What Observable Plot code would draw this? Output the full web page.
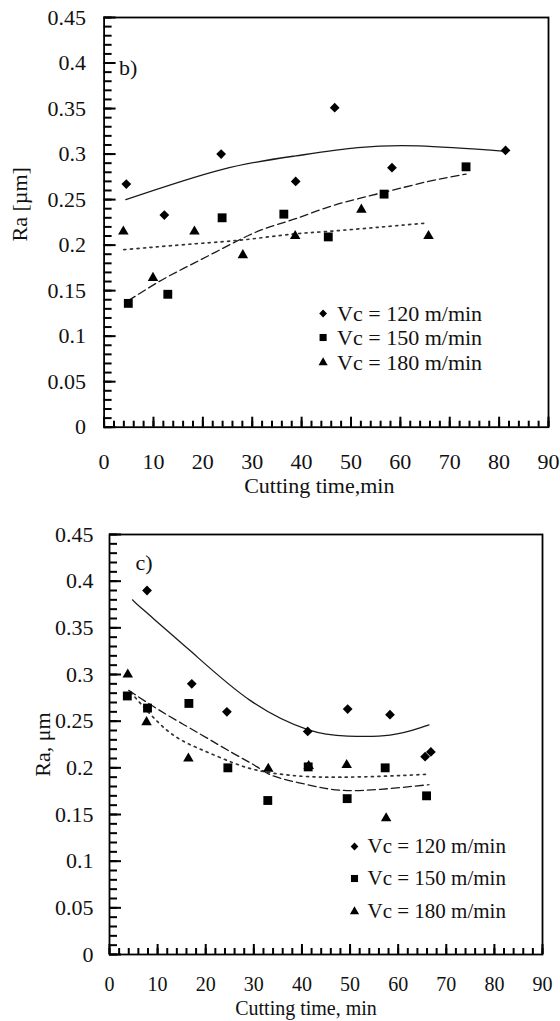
<!DOCTYPE html>
<html>
<head>
<meta charset="utf-8">
<script src="https://cdn.jsdelivr.net/npm/d3@7"></script>
<script src="https://cdn.jsdelivr.net/npm/@observablehq/plot@0.6"></script>
<style>
  html, body { margin: 0; padding: 0; background: #fff; }
  #wrap { position: relative; width: 560px; height: 1021px; overflow: hidden; }
  #pb, #pc { position: absolute; left: 0; }
  #pb { top: 0; }
  #pc { top: 500px; }
</style>
</head>
<body>
<div id="wrap"><div id="pb"></div><div id="pc"></div></div>
<script>
// ---------- data ----------
const xTicks = [0, 10, 20, 30, 40, 50, 60, 70, 80, 90];
const yTicks = [0, 0.05, 0.1, 0.15, 0.2, 0.25, 0.3, 0.35, 0.4, 0.45];
const yTickLabels = ["0", "0.05", "0.1", "0.15", "0.2", "0.25", "0.3", "0.35", "0.4", "0.45"];
const seriesNames = ["Vc = 120 m/min", "Vc = 150 m/min", "Vc = 180 m/min"];

// panel b) measured points
const b120_t  = [4.5, 12.2, 23.7, 38.8, 46.7, 58.3, 81.3];
const b120_ra = [0.267, 0.233, 0.300, 0.270, 0.351, 0.285, 0.304];
const b150_t  = [4.9, 12.9, 23.9, 36.4, 45.4, 56.7, 73.3];
const b150_ra = [0.136, 0.146, 0.230, 0.234, 0.209, 0.256, 0.286];
const b180_t  = [3.9, 9.9, 18.3, 28.1, 38.7, 52.1, 65.7];
const b180_ra = [0.215, 0.164, 0.215, 0.189, 0.210, 0.239, 0.210];
// panel b) trend curves (read from the picture)
const fb120_t  = [4.4, 23.8, 38.8, 51.4, 63.7, 81.3];
const fb120_ra = [0.250, 0.283, 0.298, 0.307, 0.309, 0.303];
const fb150_t  = [4.9, 11.8, 18.5, 25.3, 32.0, 38.8, 46.7, 56.7, 65.7, 73.3];
const fb150_ra = [0.139, 0.162, 0.181, 0.200, 0.217, 0.229, 0.244, 0.258, 0.270, 0.278];
const fb180_t  = [4.0, 18.5, 28.6, 38.0, 46.7, 64.8];
const fb180_ra = [0.195, 0.2015, 0.206, 0.212, 0.2156, 0.224];

// panel c) measured points
const c120_t  = [7.8, 17.1, 24.4, 41.2, 49.5, 58.3, 65.6, 66.8];
const c120_ra = [0.390, 0.290, 0.260, 0.239, 0.263, 0.257, 0.212, 0.217];
const c150_t  = [3.7, 7.9, 16.5, 24.6, 32.9, 41.3, 49.4, 57.3, 65.9];
const c150_ra = [0.277, 0.264, 0.269, 0.200, 0.165, 0.201, 0.167, 0.200, 0.170];
const c180_t  = [3.8, 7.7, 16.4, 33.0, 41.4, 49.3, 57.5];
const c180_ra = [0.300, 0.249, 0.210, 0.199, 0.202, 0.203, 0.146];
// panel c) trend curves (read from the picture)
const fc120_t  = [4.8, 7.1, 17.1, 29.3, 41.2, 49.5, 58.3, 64.7, 66.4];
const fc120_ra = [0.380, 0.369, 0.324, 0.272, 0.241, 0.234, 0.235, 0.243, 0.246];
const fc150_t  = [4.0, 10.6, 18.9, 25.9, 30.7, 34.2, 41.1, 48.0, 56.4, 66.4];
const fc150_ra = [0.283, 0.261, 0.236, 0.215, 0.201, 0.191, 0.182, 0.176, 0.177, 0.182];
const fc180_t  = [4.4, 12.0, 18.9, 25.9, 32.0, 40.0, 48.0, 57.0, 65.7];
const fc180_ra = [0.281, 0.240, 0.220, 0.205, 0.196, 0.191, 0.190, 0.191, 0.193];

// ---------- helpers ----------
const zip = (t, r) => t.map((v, i) => ({t: v, ra: r[i]}));
const symbols = ["diamond2", "square", "triangle"];
const symR = [4.4, 5.0, 3.9];
const legR = [3.5, 4.0, 3.4];
const dashes = [null, "8,4", "2,4.5"];
const xMinor = d3.range(0, 91, 2);
const yMinor = d3.range(0, 46).map(i => i / 100);
const FONT = "'Liberation Serif', 'Times New Roman', serif";

function panel(o) {
  const marks = [];
  // inward ticks (minor, major): negative tickSize draws them inside the frame
  marks.push(Plot.axisX(xMinor, {anchor: "bottom", tickSize: -6, tickFormat: () => "", label: null, stroke: "#000", strokeWidth: 2}));
  marks.push(Plot.axisX(xTicks, {anchor: "bottom", tickSize: -10, tickFormat: () => "", label: null, stroke: "#000", strokeWidth: 2}));
  marks.push(Plot.axisY(yMinor, {anchor: "left", tickSize: -8, tickFormat: () => "", label: null, stroke: "#000", strokeWidth: 2}));
  marks.push(Plot.axisY(yTicks, {anchor: "left", tickSize: -12, tickFormat: () => "", label: null, stroke: "#000", strokeWidth: 2}));
  // tick labels
  marks.push(Plot.axisX(xTicks, {anchor: "bottom", tickSize: 0, tickPadding: o.xPad, label: null,
    tickFormat: d => String(d), fill: "#111", fontSize: o.xFs}));
  marks.push(Plot.axisY(yTicks, {anchor: "left", tickSize: 0, tickPadding: o.yPad, label: null,
    tickFormat: (d, i) => yTickLabels[i], fill: "#111", fontSize: 22}));
  // trend curves
  o.fits.forEach((f, k) => {
    marks.push(Plot.line(f, {x: "t", y: "ra", curve: "natural", stroke: k === 2 ? "#333" : "#1a1a1a",
      strokeWidth: k === 2 ? 1.7 : 1.3, strokeDasharray: dashes[k]}));
  });
  // points
  o.pts.forEach((p, k) => {
    marks.push(Plot.dot(p, {x: "t", y: "ra", symbol: () => symbols[k], r: symR[k], fill: "#000", stroke: "none"}));
  });
  // frame
  marks.push(Plot.frame({stroke: "#000", strokeWidth: 1.8}));
  // panel tag
  marks.push(Plot.text([o.tag], {frameAnchor: "top-left", dx: o.tagDx, dy: o.tagDy, text: d => d,
    textAnchor: "start", lineAnchor: "middle", fontSize: 22, fill: "#111"}));
  // legend
  seriesNames.forEach((name, k) => {
    marks.push(Plot.dot([name], {frameAnchor: "top-left", dx: o.legDx, dy: o.legDy[k],
      symbol: () => symbols[k], r: legR[k], fill: "#000"}));
    marks.push(Plot.text([name], {frameAnchor: "top-left", dx: o.legTx, dy: o.legDy[k], text: d => d,
      textAnchor: "start", lineAnchor: "middle", fontSize: o.legFs, fill: "#111"}));
  });
  // axis titles
  marks.push(Plot.text([o.xTitle], {frameAnchor: "bottom", dx: o.xtDx, dy: o.xtDy, text: d => d,
    textAnchor: "middle", lineAnchor: "middle", fontSize: o.xFs, fill: "#111"}));
  marks.push(Plot.text([o.yTitle], {frameAnchor: "left", dx: o.ytDx, dy: o.ytDy, text: d => d,
    rotate: -90, textAnchor: "middle", lineAnchor: "middle", fontSize: 22, fill: "#111"}));

  return Plot.plot({
    width: 560, height: o.height,
    marginTop: o.mt, marginBottom: o.mb, marginLeft: o.ml, marginRight: o.mr,
    x: {domain: [0, 90]},
    y: {domain: [0, 0.45]},
    style: {fontFamily: FONT, fontSize: "22px", color: "#111", background: "#fff", overflow: "visible"},
    marks
  });
}

document.getElementById("pb").appendChild(panel({
  height: 500, mt: 17, mb: 73.3, ml: 103.6, mr: 12,
  xPad: 26, yPad: 18, xFs: 22, legFs: 22,
  fits: [zip(fb120_t, fb120_ra), zip(fb150_t, fb150_ra), zip(fb180_t, fb180_ra)],
  pts: [zip(b120_t, b120_ra), zip(b150_t, b150_ra), zip(b180_t, b180_ra)],
  tag: "b)", tagDx: 15, tagDy: 50,
  legDx: 219, legTx: 233, legDy: [296, 320, 345],
  xTitle: "Cutting time,min", xtDx: -7, xtDy: 59,
  yTitle: "Ra [µm]", ytDx: -84, ytDy: -18
}));

document.getElementById("pc").appendChild(panel({
  height: 521, mt: 34, mb: 67, ml: 109, mr: 18,
  xPad: 22, yPad: 16, xFs: 20, legFs: 21,
  fits: [zip(fc120_t, fc120_ra), zip(fc150_t, fc150_ra), zip(fc180_t, fc180_ra)],
  pts: [zip(c120_t, c120_ra), zip(c150_t, c150_ra), zip(c180_t, c180_ra)],
  tag: "c)", tagDx: 26, tagDy: 28,
  legDx: 245, legTx: 258, legDy: [312, 344, 377],
  xTitle: "Cutting time, min", xtDx: -20, xtDy: 54,
  yTitle: "Ra, μm", ytDx: -67, ytDy: 0
}));
</script>
</body>
</html>
